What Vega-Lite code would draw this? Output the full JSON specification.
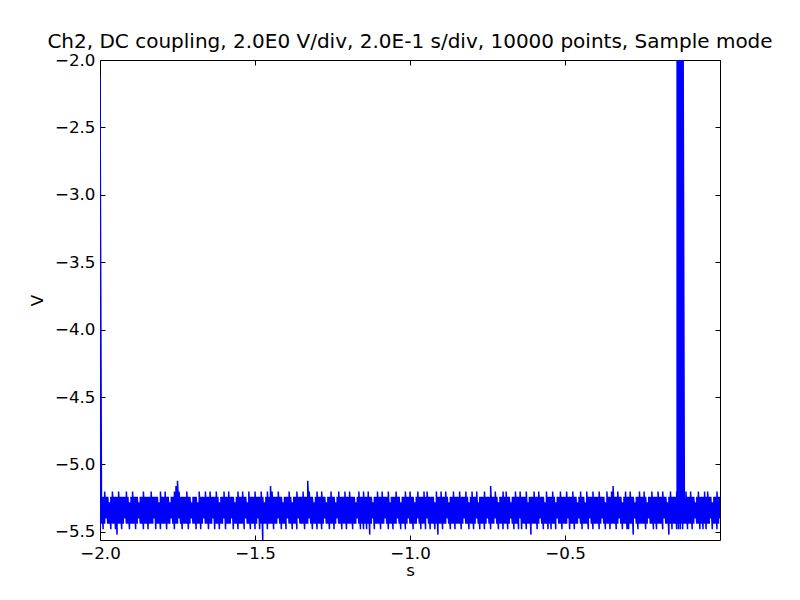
{
"$schema": "https://vega.github.io/schema/vega-lite/v6.json",
"width": 620, "height": 480,
"autosize": {"type": "none"},
"padding": {"left": 100, "top": 60, "right": 80, "bottom": 60},
"background": "white",
"title": {"text": "Ch2, DC coupling, 2.0E0 V/div, 2.0E-1 s/div, 10000 points, Sample mode", "font": "DejaVu Sans", "fontSize": 20, "fontWeight": "normal", "color": "black", "offset": 0},
"data": {"values": [
{"t":-2.000,"hi":-2.12,"lo":-5.48},
{"t":-1.995,"hi":-5.24,"lo":-5.44},{"t":-1.990,"hi":-5.24,"lo":-5.48},{"t":-1.985,"hi":-5.20,"lo":-5.44},{"t":-1.980,"hi":-5.24,"lo":-5.40},{"t":-1.975,"hi":-5.24,"lo":-5.44},{"t":-1.970,"hi":-5.28,"lo":-5.44},{"t":-1.965,"hi":-5.24,"lo":-5.48},{"t":-1.960,"hi":-5.20,"lo":-5.44},{"t":-1.955,"hi":-5.24,"lo":-5.44},{"t":-1.950,"hi":-5.24,"lo":-5.48},
{"t":-1.945,"hi":-5.24,"lo":-5.52},{"t":-1.940,"hi":-5.20,"lo":-5.44},{"t":-1.935,"hi":-5.24,"lo":-5.44},{"t":-1.930,"hi":-5.24,"lo":-5.48},{"t":-1.925,"hi":-5.24,"lo":-5.44},{"t":-1.920,"hi":-5.24,"lo":-5.40},{"t":-1.915,"hi":-5.20,"lo":-5.44},{"t":-1.910,"hi":-5.24,"lo":-5.44},{"t":-1.905,"hi":-5.28,"lo":-5.48},{"t":-1.900,"hi":-5.24,"lo":-5.44},
{"t":-1.895,"hi":-5.20,"lo":-5.44},{"t":-1.890,"hi":-5.24,"lo":-5.44},{"t":-1.885,"hi":-5.24,"lo":-5.48},{"t":-1.880,"hi":-5.24,"lo":-5.44},{"t":-1.875,"hi":-5.28,"lo":-5.40},{"t":-1.870,"hi":-5.24,"lo":-5.44},{"t":-1.865,"hi":-5.24,"lo":-5.44},{"t":-1.860,"hi":-5.20,"lo":-5.48},{"t":-1.855,"hi":-5.24,"lo":-5.44},{"t":-1.850,"hi":-5.24,"lo":-5.44},
{"t":-1.845,"hi":-5.24,"lo":-5.48},{"t":-1.840,"hi":-5.24,"lo":-5.44},{"t":-1.835,"hi":-5.20,"lo":-5.44},{"t":-1.830,"hi":-5.24,"lo":-5.44},{"t":-1.825,"hi":-5.24,"lo":-5.40},{"t":-1.820,"hi":-5.24,"lo":-5.48},{"t":-1.815,"hi":-5.24,"lo":-5.44},{"t":-1.810,"hi":-5.28,"lo":-5.44},{"t":-1.805,"hi":-5.20,"lo":-5.48},{"t":-1.800,"hi":-5.24,"lo":-5.44},
{"t":-1.795,"hi":-5.24,"lo":-5.44},{"t":-1.790,"hi":-5.20,"lo":-5.44},{"t":-1.785,"hi":-5.24,"lo":-5.48},{"t":-1.780,"hi":-5.24,"lo":-5.44},{"t":-1.775,"hi":-5.28,"lo":-5.44},{"t":-1.770,"hi":-5.24,"lo":-5.40},{"t":-1.765,"hi":-5.24,"lo":-5.44},{"t":-1.760,"hi":-5.20,"lo":-5.48},{"t":-1.755,"hi":-5.16,"lo":-5.44},{"t":-1.750,"hi":-5.12,"lo":-5.44},
{"t":-1.745,"hi":-5.20,"lo":-5.40},{"t":-1.740,"hi":-5.24,"lo":-5.44},{"t":-1.735,"hi":-5.24,"lo":-5.48},{"t":-1.730,"hi":-5.24,"lo":-5.44},{"t":-1.725,"hi":-5.24,"lo":-5.44},{"t":-1.720,"hi":-5.20,"lo":-5.44},{"t":-1.715,"hi":-5.24,"lo":-5.48},{"t":-1.710,"hi":-5.24,"lo":-5.44},{"t":-1.705,"hi":-5.28,"lo":-5.40},{"t":-1.700,"hi":-5.24,"lo":-5.44},
{"t":-1.695,"hi":-5.24,"lo":-5.44},{"t":-1.690,"hi":-5.24,"lo":-5.48},{"t":-1.685,"hi":-5.28,"lo":-5.44},{"t":-1.680,"hi":-5.20,"lo":-5.44},{"t":-1.675,"hi":-5.24,"lo":-5.48},{"t":-1.670,"hi":-5.24,"lo":-5.44},{"t":-1.665,"hi":-5.24,"lo":-5.40},{"t":-1.660,"hi":-5.20,"lo":-5.44},{"t":-1.655,"hi":-5.24,"lo":-5.44},{"t":-1.650,"hi":-5.24,"lo":-5.48},
{"t":-1.645,"hi":-5.20,"lo":-5.44},{"t":-1.640,"hi":-5.24,"lo":-5.44},{"t":-1.635,"hi":-5.24,"lo":-5.40},{"t":-1.630,"hi":-5.24,"lo":-5.48},{"t":-1.625,"hi":-5.20,"lo":-5.44},{"t":-1.620,"hi":-5.24,"lo":-5.44},{"t":-1.615,"hi":-5.28,"lo":-5.48},{"t":-1.610,"hi":-5.24,"lo":-5.44},{"t":-1.605,"hi":-5.24,"lo":-5.44},{"t":-1.600,"hi":-5.20,"lo":-5.40},
{"t":-1.595,"hi":-5.24,"lo":-5.48},{"t":-1.590,"hi":-5.24,"lo":-5.44},{"t":-1.585,"hi":-5.20,"lo":-5.44},{"t":-1.580,"hi":-5.24,"lo":-5.44},{"t":-1.575,"hi":-5.24,"lo":-5.40},{"t":-1.570,"hi":-5.24,"lo":-5.48},{"t":-1.565,"hi":-5.28,"lo":-5.44},{"t":-1.560,"hi":-5.24,"lo":-5.44},{"t":-1.555,"hi":-5.20,"lo":-5.48},{"t":-1.550,"hi":-5.24,"lo":-5.44},
{"t":-1.545,"hi":-5.24,"lo":-5.44},{"t":-1.540,"hi":-5.20,"lo":-5.44},{"t":-1.535,"hi":-5.24,"lo":-5.48},{"t":-1.530,"hi":-5.24,"lo":-5.40},{"t":-1.525,"hi":-5.28,"lo":-5.44},{"t":-1.520,"hi":-5.20,"lo":-5.44},{"t":-1.515,"hi":-5.24,"lo":-5.48},{"t":-1.510,"hi":-5.24,"lo":-5.44},{"t":-1.505,"hi":-5.24,"lo":-5.44},{"t":-1.500,"hi":-5.20,"lo":-5.48},
{"t":-1.495,"hi":-5.24,"lo":-5.44},{"t":-1.490,"hi":-5.24,"lo":-5.40},{"t":-1.485,"hi":-5.24,"lo":-5.48},{"t":-1.480,"hi":-5.20,"lo":-5.44},{"t":-1.475,"hi":-5.24,"lo":-5.56},{"t":-1.470,"hi":-5.28,"lo":-5.44},{"t":-1.465,"hi":-5.24,"lo":-5.44},{"t":-1.460,"hi":-5.20,"lo":-5.48},{"t":-1.455,"hi":-5.24,"lo":-5.44},{"t":-1.450,"hi":-5.16,"lo":-5.44},
{"t":-1.445,"hi":-5.20,"lo":-5.44},{"t":-1.440,"hi":-5.24,"lo":-5.48},{"t":-1.435,"hi":-5.24,"lo":-5.44},{"t":-1.430,"hi":-5.24,"lo":-5.44},{"t":-1.425,"hi":-5.20,"lo":-5.40},{"t":-1.420,"hi":-5.24,"lo":-5.44},{"t":-1.415,"hi":-5.24,"lo":-5.48},{"t":-1.410,"hi":-5.28,"lo":-5.44},{"t":-1.405,"hi":-5.24,"lo":-5.44},{"t":-1.400,"hi":-5.24,"lo":-5.48},
{"t":-1.395,"hi":-5.24,"lo":-5.40},{"t":-1.390,"hi":-5.20,"lo":-5.44},{"t":-1.385,"hi":-5.24,"lo":-5.44},{"t":-1.380,"hi":-5.28,"lo":-5.48},{"t":-1.375,"hi":-5.24,"lo":-5.44},{"t":-1.370,"hi":-5.24,"lo":-5.44},{"t":-1.365,"hi":-5.20,"lo":-5.48},{"t":-1.360,"hi":-5.24,"lo":-5.40},{"t":-1.355,"hi":-5.24,"lo":-5.44},{"t":-1.350,"hi":-5.24,"lo":-5.44},
{"t":-1.345,"hi":-5.20,"lo":-5.44},{"t":-1.340,"hi":-5.24,"lo":-5.48},{"t":-1.335,"hi":-5.24,"lo":-5.44},{"t":-1.330,"hi":-5.12,"lo":-5.44},{"t":-1.325,"hi":-5.20,"lo":-5.40},{"t":-1.320,"hi":-5.24,"lo":-5.44},{"t":-1.315,"hi":-5.24,"lo":-5.48},{"t":-1.310,"hi":-5.28,"lo":-5.44},{"t":-1.305,"hi":-5.24,"lo":-5.44},{"t":-1.300,"hi":-5.20,"lo":-5.48},
{"t":-1.295,"hi":-5.24,"lo":-5.44},{"t":-1.290,"hi":-5.24,"lo":-5.44},{"t":-1.285,"hi":-5.20,"lo":-5.48},{"t":-1.280,"hi":-5.24,"lo":-5.44},{"t":-1.275,"hi":-5.24,"lo":-5.40},{"t":-1.270,"hi":-5.28,"lo":-5.44},{"t":-1.265,"hi":-5.24,"lo":-5.44},{"t":-1.260,"hi":-5.24,"lo":-5.48},{"t":-1.255,"hi":-5.20,"lo":-5.44},{"t":-1.250,"hi":-5.24,"lo":-5.44},
{"t":-1.245,"hi":-5.24,"lo":-5.48},{"t":-1.240,"hi":-5.28,"lo":-5.44},{"t":-1.235,"hi":-5.24,"lo":-5.40},{"t":-1.230,"hi":-5.20,"lo":-5.44},{"t":-1.225,"hi":-5.24,"lo":-5.44},{"t":-1.220,"hi":-5.24,"lo":-5.48},{"t":-1.215,"hi":-5.24,"lo":-5.44},{"t":-1.210,"hi":-5.20,"lo":-5.44},{"t":-1.205,"hi":-5.24,"lo":-5.48},{"t":-1.200,"hi":-5.24,"lo":-5.44},
{"t":-1.195,"hi":-5.20,"lo":-5.44},{"t":-1.190,"hi":-5.24,"lo":-5.44},{"t":-1.185,"hi":-5.24,"lo":-5.48},{"t":-1.180,"hi":-5.24,"lo":-5.44},{"t":-1.175,"hi":-5.28,"lo":-5.44},{"t":-1.170,"hi":-5.24,"lo":-5.40},{"t":-1.165,"hi":-5.20,"lo":-5.44},{"t":-1.160,"hi":-5.24,"lo":-5.48},{"t":-1.155,"hi":-5.24,"lo":-5.44},{"t":-1.150,"hi":-5.20,"lo":-5.48},
{"t":-1.145,"hi":-5.24,"lo":-5.44},{"t":-1.140,"hi":-5.24,"lo":-5.48},{"t":-1.135,"hi":-5.20,"lo":-5.44},{"t":-1.130,"hi":-5.24,"lo":-5.52},{"t":-1.125,"hi":-5.24,"lo":-5.44},{"t":-1.120,"hi":-5.28,"lo":-5.40},{"t":-1.115,"hi":-5.24,"lo":-5.48},{"t":-1.110,"hi":-5.24,"lo":-5.44},{"t":-1.105,"hi":-5.20,"lo":-5.44},{"t":-1.100,"hi":-5.24,"lo":-5.44},
{"t":-1.095,"hi":-5.24,"lo":-5.48},{"t":-1.090,"hi":-5.20,"lo":-5.44},{"t":-1.085,"hi":-5.24,"lo":-5.44},{"t":-1.080,"hi":-5.24,"lo":-5.40},{"t":-1.075,"hi":-5.24,"lo":-5.44},{"t":-1.070,"hi":-5.20,"lo":-5.48},{"t":-1.065,"hi":-5.28,"lo":-5.44},{"t":-1.060,"hi":-5.24,"lo":-5.44},{"t":-1.055,"hi":-5.24,"lo":-5.48},{"t":-1.050,"hi":-5.24,"lo":-5.44},
{"t":-1.045,"hi":-5.20,"lo":-5.44},{"t":-1.040,"hi":-5.24,"lo":-5.40},{"t":-1.035,"hi":-5.24,"lo":-5.44},{"t":-1.030,"hi":-5.28,"lo":-5.48},{"t":-1.025,"hi":-5.24,"lo":-5.44},{"t":-1.020,"hi":-5.24,"lo":-5.44},{"t":-1.015,"hi":-5.20,"lo":-5.48},{"t":-1.010,"hi":-5.24,"lo":-5.44},{"t":-1.005,"hi":-5.24,"lo":-5.40},{"t":-1.000,"hi":-5.20,"lo":-5.44},
{"t":-0.995,"hi":-5.24,"lo":-5.44},{"t":-0.990,"hi":-5.24,"lo":-5.48},{"t":-0.985,"hi":-5.28,"lo":-5.44},{"t":-0.980,"hi":-5.24,"lo":-5.44},{"t":-0.975,"hi":-5.20,"lo":-5.40},{"t":-0.970,"hi":-5.24,"lo":-5.44},{"t":-0.965,"hi":-5.24,"lo":-5.48},{"t":-0.960,"hi":-5.24,"lo":-5.44},{"t":-0.955,"hi":-5.20,"lo":-5.44},{"t":-0.950,"hi":-5.24,"lo":-5.48},
{"t":-0.945,"hi":-5.20,"lo":-5.40},{"t":-0.940,"hi":-5.24,"lo":-5.44},{"t":-0.935,"hi":-5.24,"lo":-5.48},{"t":-0.930,"hi":-5.24,"lo":-5.44},{"t":-0.925,"hi":-5.24,"lo":-5.44},{"t":-0.920,"hi":-5.28,"lo":-5.48},{"t":-0.915,"hi":-5.20,"lo":-5.44},{"t":-0.910,"hi":-5.24,"lo":-5.52},{"t":-0.905,"hi":-5.24,"lo":-5.44},{"t":-0.900,"hi":-5.20,"lo":-5.44},
{"t":-0.895,"hi":-5.24,"lo":-5.48},{"t":-0.890,"hi":-5.24,"lo":-5.44},{"t":-0.885,"hi":-5.20,"lo":-5.44},{"t":-0.880,"hi":-5.24,"lo":-5.40},{"t":-0.875,"hi":-5.28,"lo":-5.44},{"t":-0.870,"hi":-5.24,"lo":-5.48},{"t":-0.865,"hi":-5.24,"lo":-5.44},{"t":-0.860,"hi":-5.20,"lo":-5.44},{"t":-0.855,"hi":-5.24,"lo":-5.48},{"t":-0.850,"hi":-5.24,"lo":-5.44},
{"t":-0.845,"hi":-5.24,"lo":-5.44},{"t":-0.840,"hi":-5.20,"lo":-5.44},{"t":-0.835,"hi":-5.24,"lo":-5.48},{"t":-0.830,"hi":-5.24,"lo":-5.44},{"t":-0.825,"hi":-5.24,"lo":-5.40},{"t":-0.820,"hi":-5.20,"lo":-5.44},{"t":-0.815,"hi":-5.24,"lo":-5.44},{"t":-0.810,"hi":-5.28,"lo":-5.48},{"t":-0.805,"hi":-5.24,"lo":-5.44},{"t":-0.800,"hi":-5.20,"lo":-5.44},
{"t":-0.795,"hi":-5.24,"lo":-5.48},{"t":-0.790,"hi":-5.24,"lo":-5.44},{"t":-0.785,"hi":-5.20,"lo":-5.40},{"t":-0.780,"hi":-5.28,"lo":-5.44},{"t":-0.775,"hi":-5.24,"lo":-5.48},{"t":-0.770,"hi":-5.24,"lo":-5.44},{"t":-0.765,"hi":-5.24,"lo":-5.44},{"t":-0.760,"hi":-5.20,"lo":-5.48},{"t":-0.755,"hi":-5.24,"lo":-5.44},{"t":-0.750,"hi":-5.24,"lo":-5.40},
{"t":-0.745,"hi":-5.24,"lo":-5.44},{"t":-0.740,"hi":-5.16,"lo":-5.48},{"t":-0.735,"hi":-5.24,"lo":-5.44},{"t":-0.730,"hi":-5.24,"lo":-5.44},{"t":-0.725,"hi":-5.20,"lo":-5.40},{"t":-0.720,"hi":-5.24,"lo":-5.44},{"t":-0.715,"hi":-5.28,"lo":-5.48},{"t":-0.710,"hi":-5.24,"lo":-5.44},{"t":-0.705,"hi":-5.24,"lo":-5.44},{"t":-0.700,"hi":-5.20,"lo":-5.48},
{"t":-0.695,"hi":-5.24,"lo":-5.44},{"t":-0.690,"hi":-5.20,"lo":-5.44},{"t":-0.685,"hi":-5.24,"lo":-5.48},{"t":-0.680,"hi":-5.24,"lo":-5.44},{"t":-0.675,"hi":-5.28,"lo":-5.40},{"t":-0.670,"hi":-5.24,"lo":-5.44},{"t":-0.665,"hi":-5.24,"lo":-5.48},{"t":-0.660,"hi":-5.20,"lo":-5.44},{"t":-0.655,"hi":-5.24,"lo":-5.44},{"t":-0.650,"hi":-5.24,"lo":-5.48},
{"t":-0.645,"hi":-5.20,"lo":-5.40},{"t":-0.640,"hi":-5.24,"lo":-5.48},{"t":-0.635,"hi":-5.24,"lo":-5.44},{"t":-0.630,"hi":-5.24,"lo":-5.44},{"t":-0.625,"hi":-5.20,"lo":-5.48},{"t":-0.620,"hi":-5.28,"lo":-5.44},{"t":-0.615,"hi":-5.24,"lo":-5.44},{"t":-0.610,"hi":-5.24,"lo":-5.52},{"t":-0.605,"hi":-5.24,"lo":-5.44},{"t":-0.600,"hi":-5.20,"lo":-5.44},
{"t":-0.595,"hi":-5.24,"lo":-5.44},{"t":-0.590,"hi":-5.24,"lo":-5.48},{"t":-0.585,"hi":-5.20,"lo":-5.44},{"t":-0.580,"hi":-5.24,"lo":-5.40},{"t":-0.575,"hi":-5.24,"lo":-5.44},{"t":-0.570,"hi":-5.24,"lo":-5.48},{"t":-0.565,"hi":-5.28,"lo":-5.44},{"t":-0.560,"hi":-5.20,"lo":-5.44},{"t":-0.555,"hi":-5.24,"lo":-5.48},{"t":-0.550,"hi":-5.24,"lo":-5.44},
{"t":-0.545,"hi":-5.24,"lo":-5.48},{"t":-0.540,"hi":-5.20,"lo":-5.44},{"t":-0.535,"hi":-5.24,"lo":-5.44},{"t":-0.530,"hi":-5.28,"lo":-5.48},{"t":-0.525,"hi":-5.24,"lo":-5.40},{"t":-0.520,"hi":-5.24,"lo":-5.44},{"t":-0.515,"hi":-5.20,"lo":-5.44},{"t":-0.510,"hi":-5.24,"lo":-5.48},{"t":-0.505,"hi":-5.24,"lo":-5.44},{"t":-0.500,"hi":-5.24,"lo":-5.44},
{"t":-0.495,"hi":-5.20,"lo":-5.44},{"t":-0.490,"hi":-5.24,"lo":-5.40},{"t":-0.485,"hi":-5.24,"lo":-5.48},{"t":-0.480,"hi":-5.24,"lo":-5.44},{"t":-0.475,"hi":-5.20,"lo":-5.44},{"t":-0.470,"hi":-5.24,"lo":-5.48},{"t":-0.465,"hi":-5.24,"lo":-5.44},{"t":-0.460,"hi":-5.28,"lo":-5.44},{"t":-0.455,"hi":-5.24,"lo":-5.40},{"t":-0.450,"hi":-5.20,"lo":-5.44},
{"t":-0.445,"hi":-5.24,"lo":-5.48},{"t":-0.440,"hi":-5.24,"lo":-5.44},{"t":-0.435,"hi":-5.28,"lo":-5.44},{"t":-0.430,"hi":-5.20,"lo":-5.44},{"t":-0.425,"hi":-5.24,"lo":-5.48},{"t":-0.420,"hi":-5.24,"lo":-5.40},{"t":-0.415,"hi":-5.24,"lo":-5.44},{"t":-0.410,"hi":-5.20,"lo":-5.48},{"t":-0.405,"hi":-5.24,"lo":-5.44},{"t":-0.400,"hi":-5.24,"lo":-5.44},
{"t":-0.395,"hi":-5.24,"lo":-5.44},{"t":-0.390,"hi":-5.20,"lo":-5.48},{"t":-0.385,"hi":-5.24,"lo":-5.44},{"t":-0.380,"hi":-5.24,"lo":-5.40},{"t":-0.375,"hi":-5.24,"lo":-5.44},{"t":-0.370,"hi":-5.28,"lo":-5.48},{"t":-0.365,"hi":-5.20,"lo":-5.44},{"t":-0.360,"hi":-5.24,"lo":-5.44},{"t":-0.355,"hi":-5.24,"lo":-5.48},{"t":-0.350,"hi":-5.20,"lo":-5.44},
{"t":-0.345,"hi":-5.16,"lo":-5.44},{"t":-0.340,"hi":-5.24,"lo":-5.44},{"t":-0.335,"hi":-5.24,"lo":-5.48},{"t":-0.330,"hi":-5.20,"lo":-5.44},{"t":-0.325,"hi":-5.24,"lo":-5.40},{"t":-0.320,"hi":-5.24,"lo":-5.44},{"t":-0.315,"hi":-5.28,"lo":-5.48},{"t":-0.310,"hi":-5.24,"lo":-5.44},{"t":-0.305,"hi":-5.20,"lo":-5.44},{"t":-0.300,"hi":-5.24,"lo":-5.48},
{"t":-0.295,"hi":-5.24,"lo":-5.48},{"t":-0.290,"hi":-5.20,"lo":-5.44},{"t":-0.285,"hi":-5.24,"lo":-5.44},{"t":-0.280,"hi":-5.24,"lo":-5.52},{"t":-0.275,"hi":-5.28,"lo":-5.40},{"t":-0.270,"hi":-5.24,"lo":-5.44},{"t":-0.265,"hi":-5.24,"lo":-5.48},{"t":-0.260,"hi":-5.20,"lo":-5.44},{"t":-0.255,"hi":-5.24,"lo":-5.44},{"t":-0.250,"hi":-5.24,"lo":-5.44},
{"t":-0.245,"hi":-5.20,"lo":-5.44},{"t":-0.240,"hi":-5.24,"lo":-5.48},{"t":-0.235,"hi":-5.28,"lo":-5.44},{"t":-0.230,"hi":-5.24,"lo":-5.40},{"t":-0.225,"hi":-5.24,"lo":-5.44},{"t":-0.220,"hi":-5.20,"lo":-5.44},{"t":-0.215,"hi":-5.24,"lo":-5.48},{"t":-0.210,"hi":-5.24,"lo":-5.44},{"t":-0.205,"hi":-5.24,"lo":-5.48},{"t":-0.200,"hi":-5.20,"lo":-5.44},
{"t":-0.195,"hi":-5.24,"lo":-5.44},{"t":-0.190,"hi":-5.24,"lo":-5.44},{"t":-0.185,"hi":-5.20,"lo":-5.48},{"t":-0.180,"hi":-5.24,"lo":-5.40},{"t":-0.175,"hi":-5.24,"lo":-5.44},{"t":-0.170,"hi":-5.28,"lo":-5.44},{"t":-0.165,"hi":-5.24,"lo":-5.52},{"t":-0.160,"hi":-5.20,"lo":-5.44},{"t":-0.155,"hi":-5.24,"lo":-5.48},{"t":-0.150,"hi":-5.24,"lo":-5.44},
{"t":-0.145,"hi":-5.24,"lo":-5.44},{"t":-0.140,"hi":-5.20,"lo":-5.48},
{"t":-0.1385,"hi":-2.00,"lo":-5.44},{"t":-0.1370,"hi":-2.00,"lo":-5.40},{"t":-0.1355,"hi":-2.00,"lo":-5.44},{"t":-0.1340,"hi":-2.00,"lo":-5.48},{"t":-0.1325,"hi":-2.00,"lo":-5.44},{"t":-0.1310,"hi":-2.00,"lo":-5.40},{"t":-0.1295,"hi":-2.00,"lo":-5.44},{"t":-0.1280,"hi":-2.04,"lo":-5.48},{"t":-0.1265,"hi":-2.00,"lo":-5.44},{"t":-0.1250,"hi":-2.00,"lo":-5.40},{"t":-0.1235,"hi":-2.00,"lo":-5.44},{"t":-0.1220,"hi":-2.00,"lo":-5.44},{"t":-0.1205,"hi":-2.00,"lo":-5.48},{"t":-0.1190,"hi":-2.00,"lo":-5.44},
{"t":-0.115,"hi":-5.24,"lo":-5.44},{"t":-0.110,"hi":-5.20,"lo":-5.44},{"t":-0.105,"hi":-5.24,"lo":-5.48},{"t":-0.100,"hi":-5.24,"lo":-5.44},
{"t":-0.095,"hi":-5.20,"lo":-5.44},{"t":-0.090,"hi":-5.24,"lo":-5.48},{"t":-0.085,"hi":-5.24,"lo":-5.44},{"t":-0.080,"hi":-5.28,"lo":-5.40},{"t":-0.075,"hi":-5.24,"lo":-5.44},{"t":-0.070,"hi":-5.20,"lo":-5.44},{"t":-0.065,"hi":-5.24,"lo":-5.48},{"t":-0.060,"hi":-5.24,"lo":-5.44},{"t":-0.055,"hi":-5.24,"lo":-5.48},{"t":-0.050,"hi":-5.20,"lo":-5.44},
{"t":-0.045,"hi":-5.24,"lo":-5.48},{"t":-0.040,"hi":-5.20,"lo":-5.44},{"t":-0.035,"hi":-5.24,"lo":-5.44},{"t":-0.030,"hi":-5.24,"lo":-5.40},{"t":-0.025,"hi":-5.28,"lo":-5.48},{"t":-0.020,"hi":-5.24,"lo":-5.44},{"t":-0.015,"hi":-5.24,"lo":-5.44},{"t":-0.010,"hi":-5.20,"lo":-5.48},{"t":-0.005,"hi":-5.24,"lo":-5.44},{"t":-0.0002,"hi":-5.24,"lo":-5.40}
]},
"transform": [{"fold": ["lo", "hi"], "as": ["kind", "v"]}],
"config": {
  "view": {"stroke": "black", "strokeWidth": 1},
  "axis": {"grid": false, "domain": false, "tickColor": "black", "tickSize": -5, "tickWidth": 1, "labelFont": "DejaVu Sans", "labelFontSize": 16.7, "labelColor": "black", "labelPadding": 10, "labelFlush": false, "titleFont": "DejaVu Sans", "titleFontSize": 16.7, "titleFontWeight": "normal", "titleColor": "black"}
},
"layer": [
  {"mark": {"type": "line", "color": "#0000ff", "strokeWidth": 1.5, "clip": true},
   "encoding": {
     "x": {"field": "t", "type": "quantitative", "scale": {"domain": [-2, -0.0002], "nice": false, "zero": false}, "axis": {"values": [-2, -1.5, -1, -0.5], "format": ".1f", "title": "s", "titlePadding": 1}},
     "y": {"field": "v", "type": "quantitative", "scale": {"domain": [-5.56, -2], "nice": false, "zero": false}, "axis": {"values": [-5.5, -5, -4.5, -4, -3.5, -3, -2.5, -2], "format": ".1f", "title": "V", "titlePadding": 8}},
     "order": {"value": null}
   }},
  {"mark": {"type": "line", "opacity": 0},
   "encoding": {
     "x": {"field": "t", "type": "quantitative", "scale": {"domain": [-2, -0.0002], "nice": false, "zero": false}, "axis": {"orient": "top", "values": [-2, -1.5, -1, -0.5], "labels": false, "title": null}},
     "y": {"field": "v", "type": "quantitative", "scale": {"domain": [-5.56, -2], "nice": false, "zero": false}, "axis": {"orient": "right", "values": [-5.5, -5, -4.5, -4, -3.5, -3, -2.5, -2], "labels": false, "title": null}},
     "order": {"value": null}
   }}
],
"resolve": {"axis": {"x": "independent", "y": "independent"}}
}
